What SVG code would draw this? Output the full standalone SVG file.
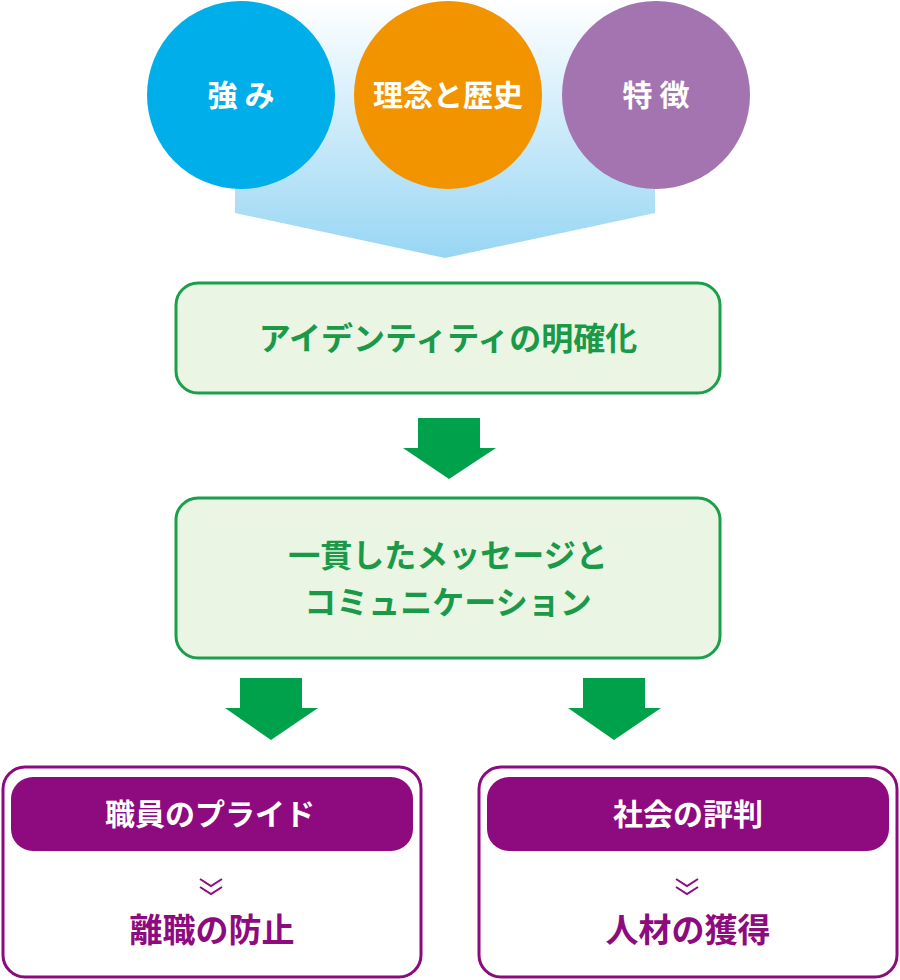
<svg xmlns="http://www.w3.org/2000/svg" width="900" height="980" viewBox="0 0 900 980">
<style>
text{font-family:"Noto Sans CJK JP",sans-serif;font-weight:bold;text-anchor:middle}
.w{fill:#fff;font-size:30px}
.g{fill:#1a9a48;font-size:32px}
.box{fill:#ebf5e3;stroke:#1aa04a;stroke-width:3}
.pb{fill:#fff;stroke:#8b0a7e;stroke-width:3}
.ph{fill:#8e0a7f}
.p{fill:#8e0a7f;font-size:33px}
.arr{fill:#00a14b}
</style>
<defs>
<linearGradient id="bg" x1="0" y1="0" x2="0" y2="1">
<stop offset="0" stop-color="#fff"/><stop offset="1" stop-color="#98d6f4"/>
</linearGradient>
</defs>
<polygon points="235,0 655,0 655,213 445,258 235,213" fill="url(#bg)"/>
<g id="n1"><circle cx="241" cy="95" r="94" fill="#00aeea"/><text class="w" x="241" y="106">強 み</text></g>
<g id="n2"><circle cx="448" cy="95" r="94" fill="#f29400"/><text class="w" x="448" y="106">理念と歴史</text></g>
<g id="n3"><circle cx="656" cy="95" r="94" fill="#a474b0"/><text class="w" x="656" y="106">特 徴</text></g>
<g id="n4"><rect class="box" x="176" y="283" width="544" height="110" rx="22"/><text class="g" x="448" y="350">アイデンティティの明確化</text></g>
<g id="n5"><rect class="box" x="176" y="498" width="544" height="160" rx="22"/><text class="g" x="448" y="567">一貫したメッセージと</text><text class="g" x="448" y="614">コミュニケーション</text></g>
<g id="connectors">
<polygon class="arr" points="418,418 480,418 480,448 496,448 449,479 403,448 418,448"/>
<polygon class="arr" points="240,678 302,678 302,708 318,708 271,740 225,708 240,708"/>
<polygon class="arr" points="583,678 645,678 645,708 661,708 614,740 568,708 583,708"/>
</g>
<g id="n6"><rect class="pb" x="3" y="767" width="418" height="210" rx="22"/><rect class="ph" x="11" y="777" width="402" height="74" rx="22"/><text class="w" x="210" y="825">職員のプライド</text>
<path d="M200,879 l11,7 l11,-7 M200,887 l11,7 l11,-7" fill="none" stroke="#8e0a7f" stroke-width="2"/>
<text class="p" x="212" y="942">離職の防止</text></g>
<g id="n7"><rect class="pb" x="479" y="767" width="418" height="210" rx="22"/><rect class="ph" x="487" y="777" width="402" height="74" rx="22"/><text class="w" x="688" y="825">社会の評判</text>
<path d="M676,879 l11,7 l11,-7 M676,887 l11,7 l11,-7" fill="none" stroke="#8e0a7f" stroke-width="2"/>
<text class="p" x="688" y="942">人材の獲得</text></g>
</svg>
